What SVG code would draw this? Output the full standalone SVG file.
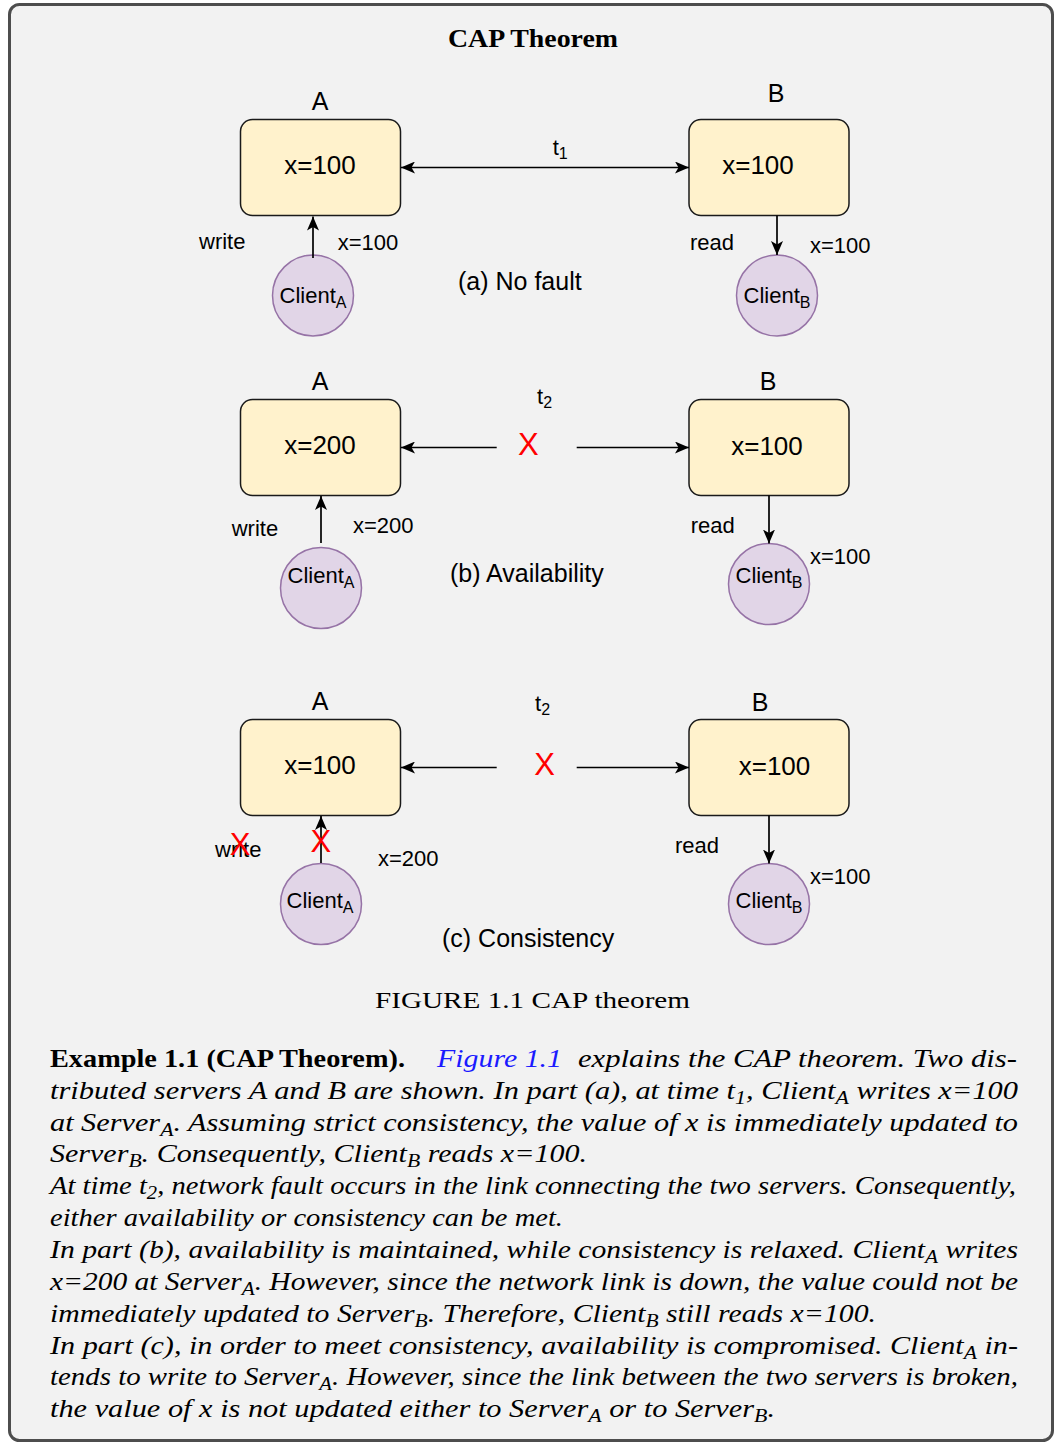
<svg xmlns="http://www.w3.org/2000/svg" width="1057" height="1443" viewBox="0 0 1057 1443">
<style>
.box{fill:#fff2cc;stroke:#1a1a1a;stroke-width:1.5}
.client{fill:#e1d5e7;stroke:#9673a6;stroke-width:1.5}
.s{font-family:"Liberation Sans",Arial,sans-serif;fill:#000}
.val{font-size:26px;text-anchor:middle}
.name{font-size:25px;text-anchor:middle}
.cl{font-size:22px;text-anchor:middle}
.sm{font-size:22px}
.cap{font-size:25px}
.conn{stroke:#000;stroke-width:1.7;fill:none}
.rx{font-family:"Liberation Sans",Arial,sans-serif;fill:#ff0000;font-size:31px;text-anchor:middle}
.p{font-family:"Liberation Serif","Times New Roman",serif;font-size:25px;font-style:italic;fill:#000}
</style>
<defs>
<marker id="ah" viewBox="0 0 14 12" refX="14" refY="6" markerWidth="14" markerHeight="12" markerUnits="userSpaceOnUse" orient="auto-start-reverse">
<path d="M0,0 L14,6 L0,12 L3.5,6 Z" fill="#000"/>
</marker>
</defs>
<rect x="9.5" y="4.5" width="1043" height="1436" rx="10" fill="#f2f2f2" stroke="#4d4d4d" stroke-width="3"/>
<text x="533" y="47" font-family="'Liberation Serif','Times New Roman',serif" font-weight="bold" font-size="26" text-anchor="middle" textLength="170" lengthAdjust="spacingAndGlyphs">CAP Theorem</text>

<!-- Part (a) -->
<g id="a-serverA">
<text class="s name" x="320" y="110">A</text>
<rect class="box" x="240.5" y="119.5" width="160" height="96" rx="12"/>
<text class="s val" x="320" y="174">x=100</text>
</g>
<g id="a-serverB">
<text class="s name" x="776" y="102">B</text>
<rect class="box" x="689" y="119.5" width="160" height="96" rx="12"/>
<text class="s val" x="758" y="174">x=100</text>
</g>
<g id="a-clientA">
<circle class="client" cx="313" cy="295.5" r="40.5"/>
<text class="s cl" x="313" y="303">Client<tspan dy="5" font-size="16">A</tspan></text>
</g>
<g id="a-clientB">
<circle class="client" cx="777" cy="295.5" r="40.5"/>
<text class="s cl" x="777" y="303">Client<tspan dy="5" font-size="16">B</tspan></text>
</g>

<!-- Part (b) -->
<g id="b-serverA">
<text class="s name" x="320" y="390">A</text>
<rect class="box" x="240.5" y="399.5" width="160" height="96" rx="12"/>
<text class="s val" x="320" y="454">x=200</text>
</g>
<g id="b-serverB">
<text class="s name" x="768" y="390">B</text>
<rect class="box" x="689" y="399.5" width="160" height="96" rx="12"/>
<text class="s val" x="767" y="455">x=100</text>
</g>
<g id="b-clientA">
<circle class="client" cx="321" cy="588" r="40.5"/>
<text class="s cl" x="321" y="583">Client<tspan dy="5" font-size="16">A</tspan></text>
</g>
<g id="b-clientB">
<circle class="client" cx="769" cy="584" r="40.5"/>
<text class="s cl" x="769" y="583">Client<tspan dy="5" font-size="16">B</tspan></text>
</g>

<!-- Part (c) -->
<g id="c-serverA">
<text class="s name" x="320" y="710">A</text>
<rect class="box" x="240.5" y="719.5" width="160" height="96" rx="12"/>
<text class="s val" x="320" y="774">x=100</text>
</g>
<g id="c-serverB">
<text class="s name" x="760" y="711">B</text>
<rect class="box" x="689" y="719.5" width="160" height="96" rx="12"/>
<text class="s val" x="774.5" y="775">x=100</text>
</g>
<g id="c-clientA">
<circle class="client" cx="321" cy="904" r="40.5"/>
<text class="s cl" x="320" y="908">Client<tspan dy="5" font-size="16">A</tspan></text>
</g>
<g id="c-clientB">
<circle class="client" cx="769" cy="904" r="40.5"/>
<text class="s cl" x="769" y="908">Client<tspan dy="5" font-size="16">B</tspan></text>
</g>

<!-- Connectors -->
<g id="connectors">
<line class="conn" x1="401" y1="167.5" x2="689" y2="167.5" marker-start="url(#ah)" marker-end="url(#ah)"/>
<line class="conn" x1="313" y1="258" x2="313" y2="216.5" marker-end="url(#ah)"/>
<line class="conn" x1="777" y1="215.5" x2="777" y2="255" marker-end="url(#ah)"/>

<line class="conn" x1="496.7" y1="447.5" x2="401" y2="447.5" marker-end="url(#ah)"/>
<line class="conn" x1="576.7" y1="447.5" x2="689" y2="447.5" marker-end="url(#ah)"/>
<line class="conn" x1="321" y1="543" x2="321" y2="496" marker-end="url(#ah)"/>
<line class="conn" x1="769" y1="495.5" x2="769" y2="543.5" marker-end="url(#ah)"/>

<line class="conn" x1="496.7" y1="767.5" x2="401" y2="767.5" marker-end="url(#ah)"/>
<line class="conn" x1="576.7" y1="767.5" x2="689" y2="767.5" marker-end="url(#ah)"/>
<line class="conn" x1="321" y1="863" x2="321" y2="816" marker-end="url(#ah)"/>
<line class="conn" x1="769" y1="815.5" x2="769" y2="863.5" marker-end="url(#ah)"/>
</g>

<!-- Labels (a) -->
<text class="s sm" x="552.7" y="155">t<tspan dy="4" font-size="16">1</tspan></text>
<text class="s sm" x="199" y="249">write</text>
<text class="s sm" x="337.7" y="250">x=100</text>
<text class="s cap" x="458" y="290">(a) No fault</text>
<text class="s sm" x="690" y="250">read</text>
<text class="s sm" x="810" y="253">x=100</text>

<!-- Labels (b) -->
<text class="s sm" x="537" y="404">t<tspan dy="4" font-size="16">2</tspan></text>
<text class="rx" x="528.3" y="455">X</text>
<text class="s sm" x="231.7" y="536">write</text>
<text class="s sm" x="353" y="533">x=200</text>
<text class="s cap" x="450" y="582">(b) Availability</text>
<text class="s sm" x="690.7" y="533">read</text>
<text class="s sm" x="810" y="564">x=100</text>

<!-- Labels (c) -->
<text class="s sm" x="535" y="711">t<tspan dy="4" font-size="16">2</tspan></text>
<text class="rx" x="544.5" y="775">X</text>
<text class="s sm" x="215" y="857">write</text>
<text class="rx" x="240" y="855">X</text>
<text class="rx" x="320.8" y="851.5">X</text>
<text class="s sm" x="378" y="866">x=200</text>
<text class="s cap" x="442" y="947">(c) Consistency</text>
<text class="s sm" x="675" y="853">read</text>
<text class="s sm" x="810" y="884">x=100</text>

<!-- Caption -->
<text x="532.5" y="1008" font-family="'Liberation Serif','Times New Roman',serif" font-size="24" text-anchor="middle" textLength="315" lengthAdjust="spacingAndGlyphs">FIGURE 1.1 CAP theorem</text>

<!-- Paragraph -->
<text x="50" y="1067" font-family="'Liberation Serif','Times New Roman',serif" font-size="25" font-weight="bold" textLength="355" lengthAdjust="spacingAndGlyphs">Example 1.1 (CAP Theorem).</text>
<text class="p" x="437" y="1067" style="fill:#1a1aff" textLength="125" lengthAdjust="spacingAndGlyphs">Figure 1.1</text>
<text class="p" x="578" y="1067" textLength="439" lengthAdjust="spacingAndGlyphs">explains the CAP theorem. Two dis-</text>
<text class="p" x="50" y="1099" textLength="968" lengthAdjust="spacingAndGlyphs">tributed servers A and B are shown. In part (a), at time t<tspan dy="5" font-size="18">1</tspan><tspan dy="-5">, Client</tspan><tspan dy="5" font-size="18">A</tspan><tspan dy="-5"> writes x=100</tspan></text>
<text class="p" x="50" y="1131" textLength="968" lengthAdjust="spacingAndGlyphs">at Server<tspan dy="5" font-size="18">A</tspan><tspan dy="-5">. Assuming strict consistency, the value of x is immediately updated to</tspan></text>
<text class="p" x="50" y="1162" textLength="537" lengthAdjust="spacingAndGlyphs">Server<tspan dy="5" font-size="18">B</tspan><tspan dy="-5">. Consequently, Client</tspan><tspan dy="5" font-size="18">B</tspan><tspan dy="-5"> reads x=100.</tspan></text>
<text class="p" x="50" y="1194" textLength="966" lengthAdjust="spacingAndGlyphs">At time t<tspan dy="5" font-size="18">2</tspan><tspan dy="-5">, network fault occurs in the link connecting the two servers. Consequently,</tspan></text>
<text class="p" x="50" y="1226" textLength="513" lengthAdjust="spacingAndGlyphs">either availability or consistency can be met.</text>
<text class="p" x="50" y="1258" textLength="968" lengthAdjust="spacingAndGlyphs">In part (b), availability is maintained, while consistency is relaxed. Client<tspan dy="5" font-size="18">A</tspan><tspan dy="-5"> writes</tspan></text>
<text class="p" x="50" y="1290" textLength="968" lengthAdjust="spacingAndGlyphs">x=200 at Server<tspan dy="5" font-size="18">A</tspan><tspan dy="-5">. However, since the network link is down, the value could not be</tspan></text>
<text class="p" x="50" y="1322" textLength="826" lengthAdjust="spacingAndGlyphs">immediately updated to Server<tspan dy="5" font-size="18">B</tspan><tspan dy="-5">. Therefore, Client</tspan><tspan dy="5" font-size="18">B</tspan><tspan dy="-5"> still reads x=100.</tspan></text>
<text class="p" x="50" y="1354" textLength="968" lengthAdjust="spacingAndGlyphs">In part (c), in order to meet consistency, availability is compromised. Client<tspan dy="5" font-size="18">A</tspan><tspan dy="-5"> in-</tspan></text>
<text class="p" x="50" y="1385" textLength="968" lengthAdjust="spacingAndGlyphs">tends to write to Server<tspan dy="5" font-size="18">A</tspan><tspan dy="-5">. However, since the link between the two servers is broken,</tspan></text>
<text class="p" x="50" y="1417" textLength="725" lengthAdjust="spacingAndGlyphs">the value of x is not updated either to Server<tspan dy="5" font-size="18">A</tspan><tspan dy="-5"> or to Server</tspan><tspan dy="5" font-size="18">B</tspan><tspan dy="-5">.</tspan></text>
</svg>
